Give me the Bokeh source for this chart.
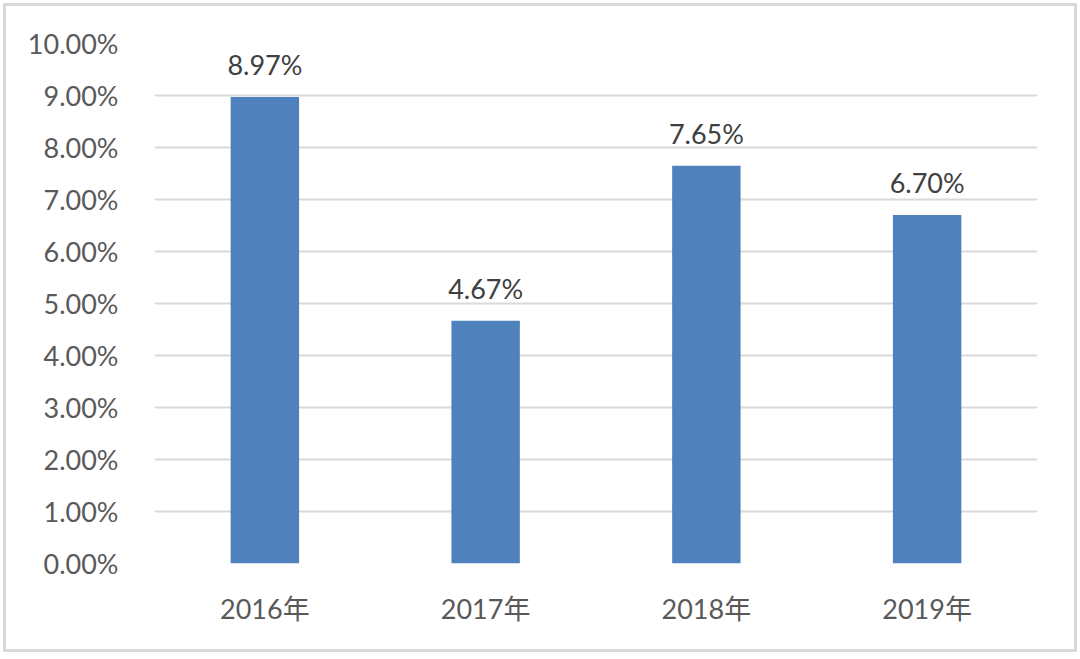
from bokeh.plotting import figure
from bokeh.models import ColumnDataSource, LabelSet, NumeralTickFormatter, FixedTicker, Range1d
from bokeh.core.properties import value
from bokeh.embed import file_html
from bokeh.resources import INLINE

years = ["2016年", "2017年", "2018年", "2019年"]
rates = [0.0897, 0.0467, 0.0765, 0.0670]
rate_labels = ["8.97%", "4.67%", "7.65%", "6.70%"]
y_ticks = [0.0, 0.01, 0.02, 0.03, 0.04, 0.05, 0.06, 0.07, 0.08, 0.09, 0.10]

FONT = "Lato, Noto Sans CJK SC, sans-serif"

src = ColumnDataSource(dict(x=years, y=rates, label=rate_labels))

p = figure(x_range=years, y_range=Range1d(0, 0.10), width=1074, height=649,
           output_backend="svg", toolbar_location=None,
           min_border_left=148, min_border_right=43, min_border_top=37, min_border_bottom=92)
p.margin = (3, 0, 0, 3)
p.styles = {"border": "3px solid #d9d9d9"}
p.x_range.range_padding = 0
p.vbar(x="x", top="y", width=0.31, source=src, color="#4F81BD", line_color=None)

p.yaxis.ticker = FixedTicker(ticks=y_ticks)
p.yaxis.formatter = NumeralTickFormatter(format="0.00%")
for ax in (p.xaxis, p.yaxis):
    ax.axis_line_color = None
    ax.major_tick_line_color = None
    ax.minor_tick_line_color = None
    ax.major_label_text_font = FONT
    ax.major_label_text_font_size = "27px"
    ax.major_label_text_color = "#595959"
p.yaxis.major_label_standoff = 30
p.xaxis.major_label_standoff = 22

p.xgrid.grid_line_color = None
p.ygrid.grid_line_color = "#d9d9d9"
p.ygrid.grid_line_width = 2
p.outline_line_color = None

labels = LabelSet(x="x", y="y", text="label", source=src, text_align="center",
                  text_baseline="alphabetic", y_offset=22, text_font=value(FONT),
                  text_font_size="27px", text_color="#404040")
p.add_layout(labels)

open("out.html", "w").write(file_html(p, INLINE))
